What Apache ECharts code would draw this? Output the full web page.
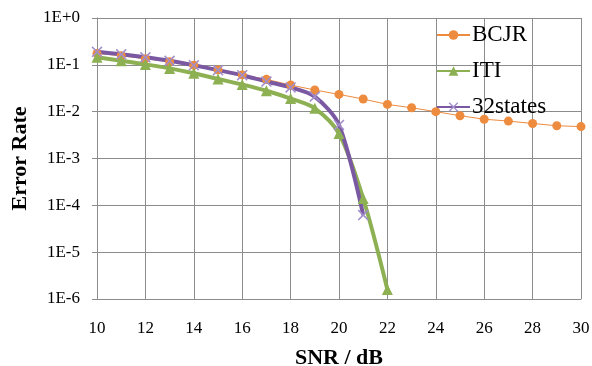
<!DOCTYPE html>
<html>
<head>
<meta charset="utf-8">
<script src="https://cdn.jsdelivr.net/npm/echarts@6/dist/echarts.min.js"></script>
<style>
  html, body { margin: 0; padding: 0; background: #fff; }
  #chart { width: 592px; height: 366px; }
</style>
</head>
<body>
<div id="chart"></div>
<script>
const snrBcjr = [10, 11, 12, 13, 14, 15, 16, 17, 18, 19, 20, 21, 22, 23, 24, 25, 26, 27, 28, 29, 30]
const bcjr = [0.175, 0.157, 0.135, 0.117, 0.098, 0.078, 0.061, 0.049, 0.037, 0.029, 0.0234,
  0.0186, 0.0143, 0.0121, 0.0100, 0.0082, 0.0069, 0.0063, 0.0056, 0.0050, 0.0048]
const snrIti = [10, 11, 12, 13, 14, 15, 16, 17, 18, 19, 20, 21, 22]
const iti = [0.145, 0.122, 0.102, 0.084, 0.066, 0.050, 0.038, 0.028, 0.019, 0.0118, 0.0034, 1.4e-4, 1.6e-6]
const snr32 = [10, 11, 12, 13, 14, 15, 16, 17, 18, 19, 20, 21]
const states32 = [0.19, 0.168, 0.145, 0.122, 0.098, 0.077, 0.060, 0.044, 0.033, 0.021, 0.0052, 6.2e-5]

const serif = '"Liberation Serif", "Times New Roman", serif'
const gridGray = '#8c8c8c'
const crossPath = 'path://M0,1L1,0L5,4L9,0L10,1L6,5L10,9L9,10L5,6L1,10L0,9L4,5Z'

function zip(xs, ys) {
  return xs.map((x, i) => [x, ys[i]])
}

const chart = echarts.init(document.getElementById('chart'), null, { renderer: 'canvas' })

chart.setOption({
  animation: false,
  backgroundColor: '#fff',
  textStyle: { fontFamily: serif },
  grid: { left: 97, right: 11, top: 18, bottom: 67, containLabel: false, outerBoundsMode: 'none' },
  legend: {
    orient: 'vertical',
    left: 431,
    top: 18,
    itemWidth: 33,
    itemHeight: 12,
    itemGap: 12,
    textStyle: { fontFamily: serif, fontSize: 23, color: '#000', lineHeight: 24, padding: [0, 0, 0, -3] },
    data: ['BCJR', 'ITI', '32states']
  },
  xAxis: {
    type: 'value',
    min: 10,
    max: 30,
    interval: 2,
    name: 'SNR / dB',
    nameLocation: 'middle',
    nameGap: 48,
    nameTextStyle: { fontFamily: serif, fontSize: 22, fontWeight: 'bold', color: '#000' },
    axisLine: { lineStyle: { color: gridGray } },
    axisTick: { show: false },
    axisLabel: { color: '#000', fontSize: 17, fontFamily: serif, margin: 21 },
    splitLine: { show: true, lineStyle: { color: gridGray, width: 1 } }
  },
  yAxis: {
    type: 'log',
    logBase: 10,
    min: 1e-6,
    max: 1,
    name: 'Error Rate',
    nameLocation: 'middle',
    nameGap: 66,
    nameTextStyle: { fontFamily: serif, fontSize: 22, fontWeight: 'bold', color: '#000' },
    axisLine: { show: true, lineStyle: { color: gridGray } },
    axisTick: { show: true, length: 5, lineStyle: { color: gridGray } },
    axisLabel: {
      color: '#000',
      fontSize: 17,
      fontFamily: serif,
      margin: 17,
      formatter: (v) => {
        const e = Math.round(Math.log10(v))
        return '1E' + (e >= 0 ? '+' : '-') + Math.abs(e)
      }
    },
    splitLine: { show: true, lineStyle: { color: gridGray, width: 1 } }
  },
  series: [
    {
      name: 'BCJR',
      type: 'line',
      data: zip(snrBcjr, bcjr),
      symbol: 'circle',
      symbolSize: 9,
      lineStyle: { color: '#ED8B3E', width: 1 },
      itemStyle: { color: '#ED8B3E' }
    },
    {
      name: 'ITI',
      type: 'line',
      data: zip(snrIti, iti),
      smooth: 0.3,
      symbol: 'triangle',
      symbolSize: 11,
      lineStyle: { color: '#8DB052', width: 4 },
      itemStyle: { color: '#8DB052' }
    },
    {
      name: '32states',
      type: 'line',
      data: zip(snr32, states32),
      smooth: 0.3,
      symbol: crossPath,
      symbolSize: 11,
      lineStyle: { color: '#7A58A2', width: 4 },
      itemStyle: { color: '#A28ECA' }
    }
  ]
})
</script>
</body>
</html>
